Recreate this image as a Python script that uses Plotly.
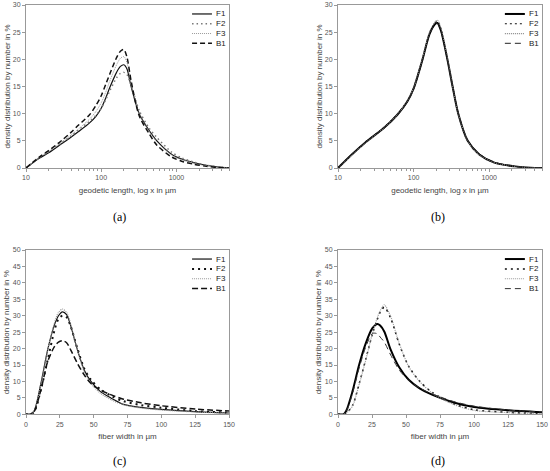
import plotly.graph_objects as go
from plotly.subplots import make_subplots

names = ["F1", "F2", "F3", "B1"]

# (a) geodetic length, log axis
len_a_x = [10, 15, 20, 30, 40, 50, 70, 85, 100, 115, 130, 160, 180, 200, 220, 250, 320, 430, 550, 870, 1200, 1700, 2500, 3500, 5000]
len_a_f1 = [0, 1.8, 2.8, 4.5, 5.7, 6.7, 8.3, 9.5, 11.0, 12.9, 14.8, 17.6, 18.7, 19.0, 18.2, 15.0, 10.0, 7.0, 5.0, 2.5, 1.6, 1.0, 0.5, 0.2, 0]
len_a_f2 = [0, 1.9, 3.0, 4.7, 5.9, 7.0, 8.6, 9.7, 11.0, 12.6, 14.2, 16.6, 17.4, 17.6, 17.2, 15.2, 10.6, 7.4, 5.6, 2.9, 1.8, 1.1, 0.5, 0.2, 0]
len_a_f3 = [0, 1.9, 3.0, 4.8, 6.1, 7.2, 9.0, 10.4, 12.0, 14.0, 16.0, 19.0, 20.2, 20.5, 19.4, 15.6, 10.0, 6.8, 4.8, 2.4, 1.5, 0.9, 0.4, 0.2, 0]
len_a_b1 = [0, 2.0, 3.2, 5.1, 6.6, 7.9, 9.8, 11.5, 13.3, 15.4, 17.3, 20.3, 21.5, 21.8, 20.4, 16.0, 9.6, 6.4, 4.2, 2.0, 1.2, 0.7, 0.3, 0.1, 0]

# (b) geodetic length, log axis
len_b_x = [10, 15, 23, 40, 61, 83, 100, 129, 162, 190, 207, 230, 280, 328, 390, 520, 740, 1170, 2200, 3500, 5000]
len_b_f1 = [0, 2.4, 4.7, 7.3, 9.8, 12.3, 14.6, 19.6, 24.6, 26.4, 26.7, 25.3, 20.0, 15.0, 10.0, 5.0, 2.5, 1.0, 0.3, 0.05, 0]
len_b_f2 = [0, 2.4, 4.7, 7.4, 9.9, 12.4, 14.7, 19.7, 24.8, 26.6, 27.0, 25.6, 20.2, 15.1, 10.0, 5.0, 2.5, 1.0, 0.3, 0.05, 0]
len_b_f3 = [0, 2.3, 4.6, 7.3, 9.8, 12.4, 14.7, 19.8, 24.9, 26.8, 27.2, 25.8, 20.3, 15.1, 10.0, 5.0, 2.4, 1.0, 0.3, 0.05, 0]
len_b_b1 = [0, 2.4, 4.7, 7.2, 9.7, 12.2, 14.5, 19.5, 24.5, 26.3, 26.6, 25.2, 20.0, 15.0, 10.1, 5.1, 2.6, 1.1, 0.3, 0.05, 0]

# (c) fiber width
wid_c_x = [0, 3, 6, 11, 16, 21, 24, 27, 30, 33, 38, 43, 48, 55, 63, 72, 85, 100, 125, 150]
wid_c_f1 = [0, 0, 1.0, 9.4, 19.6, 27.2, 30.0, 31.2, 30.3, 27.0, 19.6, 13.5, 10.0, 6.9, 4.9, 3.0, 2.1, 1.5, 0.8, 0.4]
wid_c_f2 = [0, 0, 0.7, 7.5, 16.5, 25.5, 29.0, 30.0, 29.5, 26.8, 20.0, 14.0, 10.5, 7.6, 5.6, 4.0, 2.8, 2.0, 1.0, 0.5]
wid_c_f3 = [0, 0, 1.0, 9.0, 19.5, 27.8, 31.0, 32.0, 31.0, 27.5, 19.5, 13.0, 9.4, 6.4, 4.4, 2.9, 1.9, 1.3, 0.7, 0.3]
wid_c_b1 = [0, 0, 0.8, 7.4, 16.0, 20.6, 22.0, 22.4, 21.8, 19.6, 15.5, 12.0, 9.4, 7.4, 5.9, 4.6, 3.5, 2.6, 1.6, 1.0]

# (d) fiber width
wid_d_x = [0, 4, 6, 10.6, 15.5, 20.4, 25.3, 29, 31, 34, 38.8, 45, 52, 60, 69.5, 85, 100, 125, 150]
wid_d_f1 = [0, 0, 1.0, 6.9, 15.0, 21.6, 26.2, 27.5, 27.0, 25.2, 19.6, 14.3, 10.5, 7.9, 5.9, 3.6, 2.2, 1.2, 0.6]
wid_d_f2 = [0, 0, 0.3, 2.6, 9.2, 16.7, 24.4, 29.0, 31.0, 32.6, 29.2, 21.4, 14.6, 10.1, 6.6, 3.2, 1.4, 0.6, 0.2]
wid_d_f3 = [0, 0, 0.3, 2.5, 9.0, 16.5, 24.6, 29.5, 31.5, 33.3, 29.7, 21.6, 14.5, 10.0, 6.4, 3.0, 1.2, 0.5, 0.2]
wid_d_b1 = [0, 0, 0.8, 6.2, 14.0, 20.5, 24.6, 24.5, 23.5, 22.0, 18.0, 13.5, 10.3, 8.0, 6.2, 3.9, 2.5, 1.3, 0.7]

panels = [
    ("(a)", len_a_x, [len_a_f1, len_a_f2, len_a_f3, len_a_b1]),
    ("(b)", len_b_x, [len_b_f1, len_b_f2, len_b_f3, len_b_b1]),
    ("(c)", wid_c_x, [wid_c_f1, wid_c_f2, wid_c_f3, wid_c_b1]),
    ("(d)", wid_d_x, [wid_d_f1, wid_d_f2, wid_d_f3, wid_d_b1]),
]

# line styles per panel: (color, width, dash)
styles = [
    [("#111", 1.2, "solid"), ("#777", 1.5, "1.5px,3px"), ("#999", 1.0, "1px,1px"), ("#111", 1.5, "5px,3px")],
    [("#000", 2.0, "solid"), ("#111", 1.2, "2px,3px"), ("#888", 1.2, "1px,1px"), ("#222", 1.0, "6px,4px")],
    [("#111", 1.2, "solid"), ("#111", 2.0, "2px,4px"), ("#999", 1.2, "1px,1px"), ("#111", 1.5, "6px,3px")],
    [("#000", 2.0, "solid"), ("#111", 1.5, "2px,4px"), ("#999", 1.2, "1px,1px"), ("#333", 1.0, "6px,4px")],
]

W, H = 550, 471
# plot boxes in pixels: left, right, top, bottom
boxes = [(26, 229, 5, 168), (338, 542, 5, 168), (26, 229, 250, 414.3), (338, 542, 250, 414.3)]

fig = make_subplots(rows=2, cols=2)
font = "Liberation Sans, Arial, sans-serif"

for i, (lab, xs, series) in enumerate(panels):
    r, c = i // 2 + 1, i % 2 + 1
    for name, ys, (col, w, dash) in zip(names, series, styles[i]):
        fig.add_trace(go.Scatter(x=xs, y=ys, mode="lines", name=name, showlegend=False,
                                 line=dict(color=col, width=w, dash=dash, shape="spline", smoothing=0.8)),
                      row=r, col=c)

axis_common = dict(showline=True, linecolor="#999", linewidth=1, mirror=True, ticks="outside",
                   ticklen=3, tickcolor="#999", tickfont=dict(size=7, color="#555", family=font),
                   showgrid=False, zeroline=False, automargin=False)

for i, (l, rgt, t, b) in enumerate(boxes):
    ax = "" if i == 0 else str(i + 1)
    xd = [l / W, rgt / W]
    yd = [1 - b / H, 1 - t / H]
    if i < 2:
        xa = dict(type="log", range=[1, 3.699], tickvals=[10, 100, 1000], ticktext=["10", "100", "1000"],
                  minor=dict(ticks="outside", ticklen=2, tickcolor="#999",
                             tickvals=[20, 30, 40, 50, 60, 70, 80, 90, 200, 300, 400, 500, 600, 700, 800, 900,
                                       2000, 3000, 4000, 5000]),
                  title=dict(text="geodetic length, log x in µm", font=dict(size=8, color="#444", family=font), standoff=6))
        ya = dict(range=[0, 30], dtick=5)
    else:
        xa = dict(range=[0, 150], dtick=25,
                  title=dict(text="fiber width in µm", font=dict(size=8, color="#444", family=font), standoff=6))
        ya = dict(range=[0, 50], dtick=5)
    ya["title"] = dict(text="density distribution by number in %", font=dict(size=8, color="#444", family=font), standoff=1)
    fig.layout["xaxis" + ax].update(domain=xd, **xa, **axis_common)
    fig.layout["yaxis" + ax].update(domain=yd, **ya, **axis_common)

    # legend drawn inside each panel
    legend_y = [0.945, 0.885, 0.825, 0.765]
    for name, (col, w, dash), ly in zip(names, styles[i], legend_y):
        fig.add_shape(type="line", xref="x" + ax + " domain", yref="y" + ax + " domain",
                      x0=0.818, x1=0.916, y0=ly, y1=ly, line=dict(color=col, width=w, dash=dash))
        fig.add_annotation(text=name, xref="x" + ax + " domain", yref="y" + ax + " domain",
                           x=0.926, y=ly, xanchor="left", yanchor="middle", showarrow=False,
                           font=dict(size=8, color="#222", family=font))

label_pos = [(0.218, 0.539), (0.796, 0.539), (0.218, 0.022), (0.796, 0.022)]
for (lab, _, _), (lx, ly) in zip(panels, label_pos):
    fig.add_annotation(text=lab, xref="paper", yref="paper", x=lx, y=ly, showarrow=False,
                       xanchor="center", yanchor="middle",
                       font=dict(size=12, color="#000", family="Liberation Serif, Times New Roman, serif"))

fig.update_layout(width=W, height=H, margin=dict(l=0, r=0, t=0, b=0),
                  paper_bgcolor="white", plot_bgcolor="white", showlegend=False)

# the page body has a default margin, drop it so the figure sits at the window corner
fig.write_html("out.html", config={"displayModeBar": False},
               post_script="document.body.style.margin='0';")
